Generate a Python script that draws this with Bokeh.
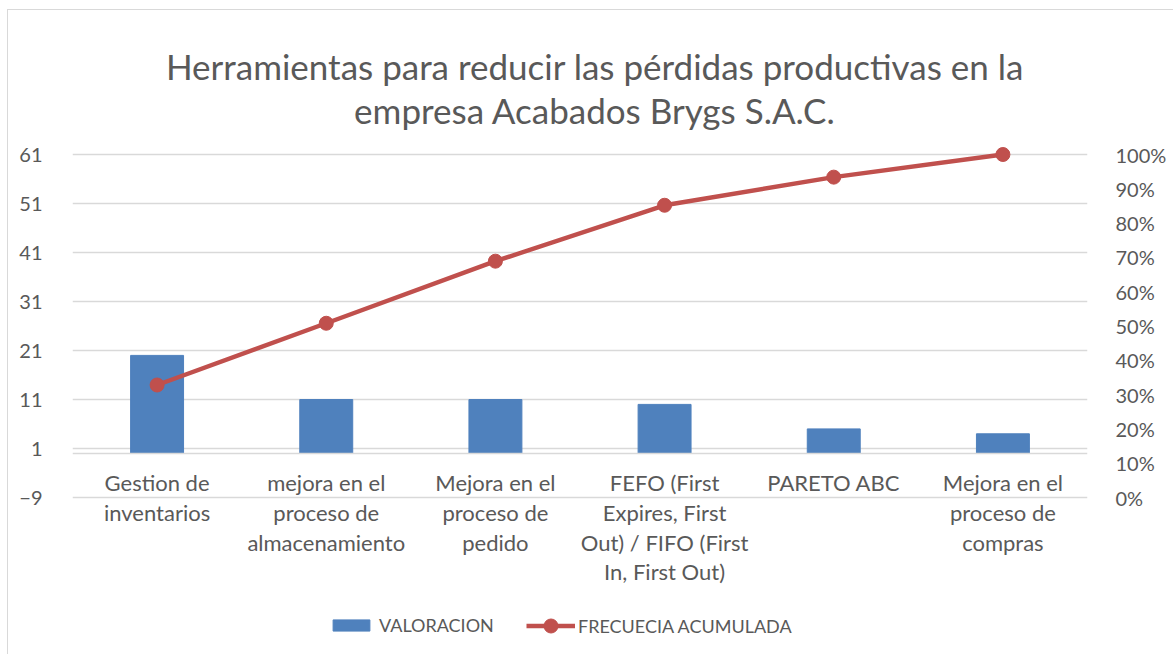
from bokeh.plotting import figure
from bokeh.models import (Range1d, FactorRange, LinearAxis, FixedTicker, NumeralTickFormatter,
                          Legend, LegendItem, Span, Label)
from bokeh.core.properties import value
from bokeh.embed import file_html
from bokeh.resources import INLINE

categories = ["Gestion de inventarios", "mejora en el proceso de almacenamiento",
              "Mejora en el proceso de pedido",
              "FEFO (First Expires, First Out) / FIFO (First In, First Out)",
              "PARETO ABC", "Mejora en el proceso de compras"]
tick_labels = ["Gestion de\ninventarios", "mejora en el\nproceso de\nalmacenamiento",
               "Mejora en el\nproceso de\npedido",
               "FEFO (First\nExpires, First\nOut) / FIFO (First\nIn, First Out)",
               "PARETO ABC", "Mejora en el\nproceso de\ncompras"]
valoracion = [20, 11, 11, 10, 5, 4]
frecuencia_acumulada = [0.328, 0.508, 0.689, 0.852, 0.934, 1.0]
left_ticks = [-9, 1, 11, 21, 31, 41, 51, 61]
right_ticks = [0, 0.1, 0.2, 0.3, 0.4, 0.5, 0.6, 0.7, 0.8, 0.9, 1.0]
title_lines = ["Herramientas para reducir las pérdidas productivas en la",
               "empresa Acabados Brygs S.A.C."]

FONT = "Lato"
GREY = "#595959"
GRID = "#d9d9d9"

# layout (pixels): the frame covers the whole height so that labels and legend are not clipped
W, H = 1166, 645
LEFT, RIGHT = 64, 87
Y_TOP_PX, Y_BOT_PX = 144, 487          # frame-relative pixel rows of 61 and -9
LO, HI = -9, 61
k = (HI - LO) / (Y_BOT_PX - Y_TOP_PX)  # value units per pixel
y_end = HI + Y_TOP_PX * k
y_start = LO - (H - Y_BOT_PX) * k
pct_start = (y_start - LO) / (HI - LO)
pct_end = (y_end - LO) / (HI - LO)

p = figure(width=W, height=H, x_range=FactorRange(*categories), y_range=Range1d(y_start, y_end),
           output_backend="svg", toolbar_location=None,
           min_border_left=LEFT, min_border_right=RIGHT, min_border_top=0, min_border_bottom=0,
           styles={"margin-left": "7px", "margin-top": "9px",
                   "border-left": "1px solid #d9d9d9", "border-top": "1px solid #d9d9d9"})
p.outline_line_color = None
p.background_fill_color = "white"
p.border_fill_color = "white"

p.extra_y_ranges = {"pct": Range1d(pct_start, pct_end)}

# title (two centred lines)
for txt, base_px in zip(title_lines, [89, 45]):   # baseline distance above the 61 line
    p.add_layout(Label(x=3, y=HI + base_px * k, x_offset=15, text=txt, text_align="center",
                       text_baseline="alphabetic", text_font=FONT, text_font_size="35px",
                       text_color=GREY))

bars = p.vbar(x=categories, top=valoracion, bottom=0, width=0.313, fill_color="#4f81bd",
              line_color="#4f81bd")
line = p.line(x=categories, y=frecuencia_acumulada, y_range_name="pct", line_color="#c0504d",
              line_width=4.5)
pts = p.scatter(x=categories, y=frecuencia_acumulada, y_range_name="pct", size=14,
                fill_color="#c0504d", line_color="#c0504d")

# category labels under the zero line
p.text(x=categories, y=0, text=tick_labels, text_font=value(FONT), text_font_size="22px",
       text_color=GREY, text_align="center", text_baseline="top", text_line_height=1.1,
       y_offset=16)
p.add_layout(Span(location=0, dimension="width", line_color=GRID, line_width=1.5))

# left axis
ya = p.yaxis[0]
ya.ticker = FixedTicker(ticks=left_ticks)
ya.axis_line_color = None
ya.major_tick_line_color = None
ya.minor_tick_line_color = None
ya.major_label_text_font = FONT
ya.major_label_text_font_size = "20px"
ya.major_label_text_color = GREY
ya.major_label_standoff = 24

# right axis
ra = LinearAxis(y_range_name="pct", ticker=FixedTicker(ticks=right_ticks),
                formatter=NumeralTickFormatter(format="0%"))
ra.axis_line_color = None
ra.major_tick_line_color = None
ra.minor_tick_line_color = None
ra.major_label_text_font = FONT
ra.major_label_text_font_size = "20px"
ra.major_label_text_color = GREY
ra.major_label_standoff = 22
p.add_layout(ra, "right")

p.xaxis.visible = False

p.xgrid.grid_line_color = None
p.ygrid.ticker = FixedTicker(ticks=left_ticks)
p.ygrid.grid_line_color = GRID
p.ygrid.grid_line_width = 1.5

legend_common = dict(orientation="horizontal", label_text_font=FONT, label_text_font_size="18px",
                     label_text_color=GREY, padding=0, margin=0, label_height=20,
                     border_line_color=None, background_fill_alpha=0)
legend_bar = Legend(items=[LegendItem(label="VALORACION", renderers=[bars])],
                    location=(256, 19), glyph_width=46, glyph_height=14, label_standoff=5,
                    **legend_common)
legend_line = Legend(items=[LegendItem(label="FRECUECIA ACUMULADA", renderers=[line, pts])],
                     location=(454, 12), glyph_width=49, glyph_height=35, label_standoff=3,
                     **legend_common)
p.add_layout(legend_bar, "center")
p.add_layout(legend_line, "center")

open("out.html", "w").write(file_html(p, INLINE))
